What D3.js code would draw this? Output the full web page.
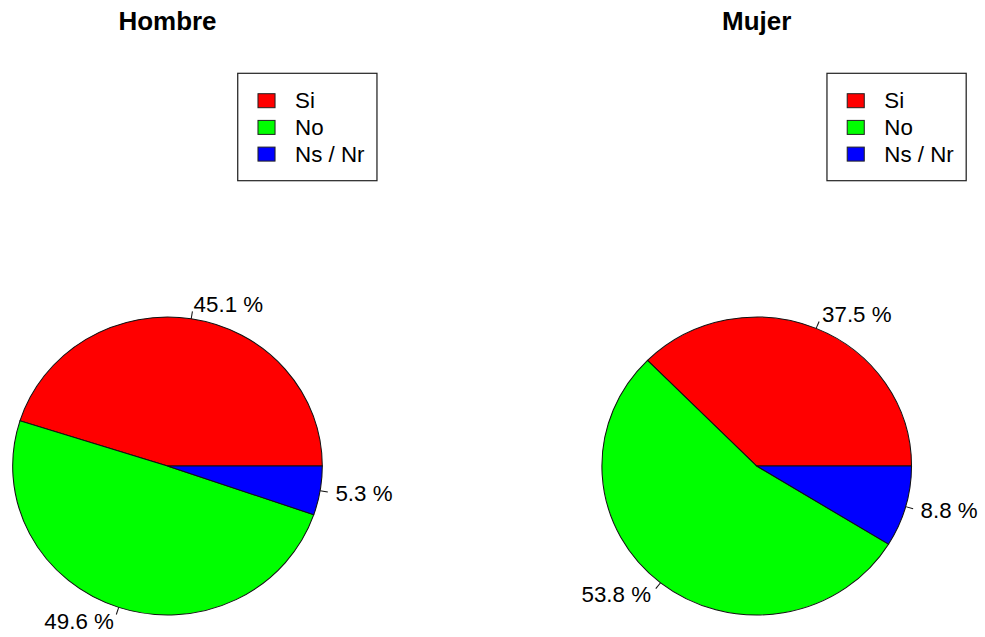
<!DOCTYPE html>
<html>
<head>
<meta charset="utf-8">
<script src="https://cdn.jsdelivr.net/npm/d3@7"></script>
<style>
  body { margin: 0; background: #fff; }
  svg { display: block; font-family: "Liberation Sans", Arial, sans-serif; }
</style>
</head>
<body>
<svg width="985" height="637"></svg>
<script>
// data
var categories = ["Si", "No", "Ns / Nr"];
var hombreValues = [45.1, 49.6, 5.3];
var mujerValues = [37.5, 53.8, 8.8];
var panelTitles = ["Hombre", "Mujer"];
var sliceColors = ["#ff0000", "#00ff00", "#0000ff"];

// the original is stretched a bit sideways, so draw in a narrower box and let it stretch
var vbW = 948, vbH = 637;
var svg = d3.select("svg")
  .attr("viewBox", "0 0 " + vbW + " " + vbH)
  .attr("preserveAspectRatio", "none");

var radius = 149;
var color = d3.scaleOrdinal().domain(categories).range(sliceColors);

// R style pie: start at 3 o'clock and go counter clockwise
var pie = d3.pie()
  .sort(null)
  .startAngle(Math.PI / 2)
  .endAngle(Math.PI / 2 - 2 * Math.PI);

var arc = d3.arc().innerRadius(0).outerRadius(radius);

var drawPanel = function(title, values, cx)
{
  var cy = 466;
  var g = svg.append("g").attr("transform", "translate(" + cx + "," + cy + ")");

  // title
  svg.append("text")
    .attr("x", cx)
    .attr("y", 30)
    .attr("text-anchor", "middle")
    .style("font-size", "25px")
    .style("font-weight", "bold")
    .text(title);

  var slices = pie(values.map(function(v, i){ return {key: categories[i], value: v}; }).map(function(d){ return d.value; }));

  g.selectAll("path")
    .data(slices)
    .enter().append("path")
    .attr("d", arc)
    .attr("fill", function(d, i){ return color(categories[i]); })
    .attr("stroke", "#111")
    .attr("stroke-width", 1);

  // labels outside with a small tick
  slices.forEach(function(d)
  {
    var a = (d.startAngle + d.endAngle) / 2;
    var sx = Math.sin(a), sy = -Math.cos(a);
    g.append("line")
      .attr("x1", sx * radius).attr("y1", sy * radius)
      .attr("x2", sx * radius * 1.05).attr("y2", sy * radius * 1.05)
      .attr("stroke", "#111")
      .attr("stroke-width", 1);
    g.append("text")
      .attr("x", sx * radius * 1.1)
      .attr("y", sy * radius * 1.1)
      .attr("dy", "0.35em")
      .attr("text-anchor", sx > 0 ? "start" : "end")
      .style("font-size", "21.5px")
      .text(d.data + " %");
  });

  // legend box
  var lx = cx + 67.6, ly = 73.3;
  svg.append("rect")
    .attr("x", lx).attr("y", ly)
    .attr("width", 134).attr("height", 107.4)
    .attr("fill", "none")
    .attr("stroke", "#222")
    .attr("stroke-width", 1.2);

  var legendG = svg.selectAll(".legend-" + title)
    .data(categories)
    .enter().append("g")
    .attr("transform", function(d, i){
      return "translate(" + (lx + 19.5) + "," + (ly + 27.4 + i * 26.7) + ")";
    });

  legendG.append("rect")
    .attr("x", 0).attr("y", -7)
    .attr("width", 16.4).attr("height", 14)
    .attr("fill", function(d){ return color(d); })
    .attr("stroke", "#222")
    .attr("stroke-width", 1);

  legendG.append("text")
    .attr("x", 35.7)
    .attr("y", 0)
    .attr("dy", "0.36em")
    .style("font-size", "21.5px")
    .text(function(d){ return d; });
};

drawPanel(panelTitles[0], hombreValues, 161.2);
drawPanel(panelTitles[1], mujerValues, 728.3);
</script>
</body>
</html>
